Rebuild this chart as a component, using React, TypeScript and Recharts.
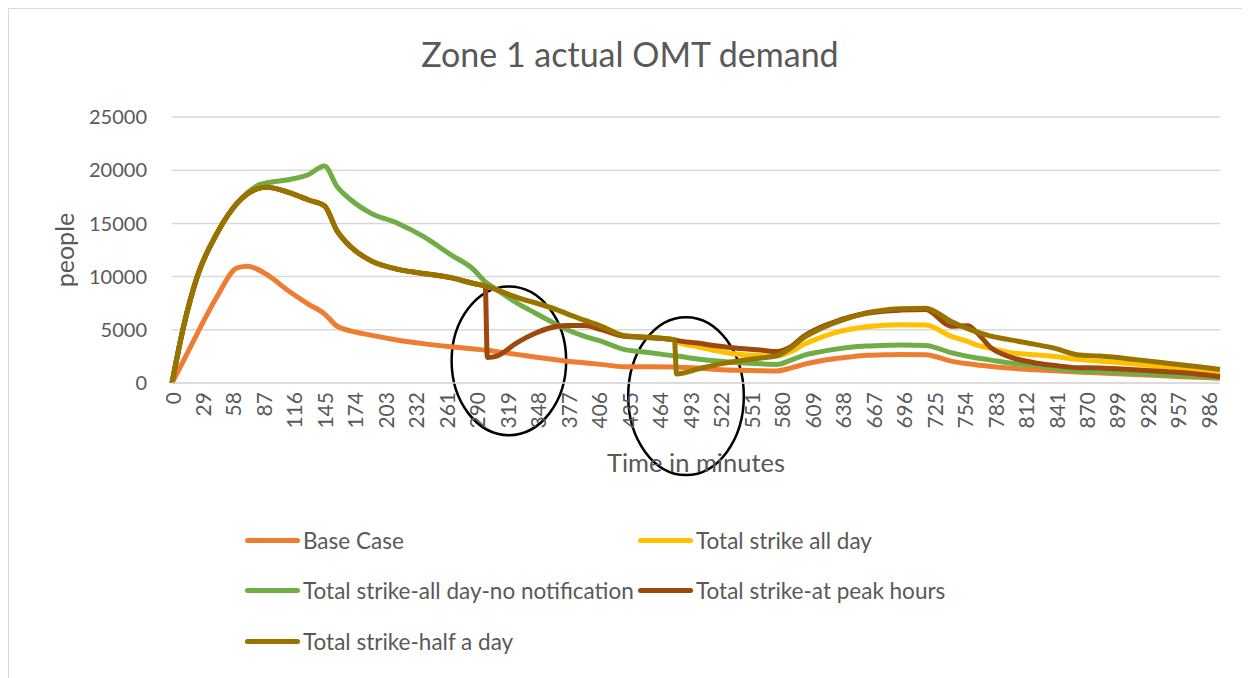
import React from 'react';
import {
  LineChart,
  Line,
  XAxis,
  YAxis,
  CartesianGrid,
  Legend,
  ReferenceArea,
} from 'recharts';

const minutes = [
  0, 11, 24, 43, 62, 72, 81, 90, 113, 130,
  145, 157, 170, 189, 214, 239, 265, 287, 298, 300,
  309, 328, 345, 360, 376, 392, 408, 430, 455, 478,
  480, 500, 519, 540, 560, 575, 590, 601, 615, 630,
  645, 661, 677, 693, 717, 741, 757, 766, 779, 795,
  820, 840, 861, 883, 915, 947, 975, 997,
];

const baseCase = [
  0, 2100, 4650, 8160, 10820, 10970, 10700, 10200, 8500, 7400,
  6500, 5340, 4900, 4500, 4050, 3700, 3410, 3200, 3090, 3070,
  2950, 2690, 2450, 2250, 2050, 1900, 1750, 1530, 1530, 1500,
  1490, 1400, 1280, 1200, 1150, 1130, 1450, 1750, 2050, 2280,
  2450, 2600, 2650, 2690, 2660, 2060, 1800, 1700, 1550, 1400,
  1250, 1150, 1030, 950, 810, 650, 540, 440,
];

const strikeAllDay = [
  0, 5300, 10000, 14100, 16900, 17800, 18250, 18400, 17850, 17200,
  16650, 14300, 12800, 11500, 10700, 10300, 9900, 9350, 9100, 9050,
  8750, 8050, 7550, 7100, 6500, 5900, 5350, 4450, 4300, 4050,
  3850, 3400, 3000, 2680, 2580, 2530, 3000, 3630, 4200, 4720,
  5050, 5280, 5420, 5480, 5440, 4400, 3900, 3550, 3250, 2900,
  2650, 2500, 2220, 2050, 1800, 1440, 1150, 910,
];

const strikeNoNotice = [
  0, 5300, 10000, 14100, 16900, 17900, 18550, 18800, 19150, 19600,
  20400, 18470, 17220, 15970, 15040, 13780, 12070, 10660, 9500, 9350,
  8780, 7530, 6600, 5810, 5000, 4400, 3940, 3160, 2850, 2550,
  2530, 2250, 2060, 1900, 1800, 1750, 2200, 2600, 2900, 3160,
  3350, 3470, 3530, 3570, 3530, 2850, 2500, 2350, 2150, 1900,
  1650, 1400, 1130, 1050, 910, 750, 620, 500,
];

const strikePeak = [
  0, 5300, 10000, 14100, 16900, 17800, 18250, 18400, 17850, 17200,
  16650, 14300, 12800, 11500, 10700, 10300, 9900, 9350, 9100, 2400,
  2530, 3780, 4650, 5190, 5410, 5400, 5030, 4400, 4250, 4050,
  4000, 3750, 3470, 3250, 3100, 2950, 3500, 4400, 5150, 5720,
  6200, 6550, 6750, 6850, 6910, 5340, 5380, 4720, 3320, 2530,
  1910, 1650, 1440, 1410, 1250, 1060, 850, 590,
];

const strikeHalfDay = [
  0, 5300, 10000, 14100, 16900, 17800, 18250, 18400, 17850, 17200,
  16650, 14300, 12800, 11500, 10700, 10300, 9900, 9350, 9100, 9050,
  8750, 8050, 7550, 7100, 6500, 5900, 5350, 4450, 4300, 4050,
  850, 1300, 1750, 2100, 2350, 2550, 3400, 4250, 5000, 5650,
  6150, 6600, 6850, 6970, 7030, 5800, 5100, 4800, 4400, 4100,
  3650, 3250, 2650, 2530, 2220, 1850, 1550, 1280,
];

const xTicks = [
  0, 29, 58, 87, 116, 145, 174, 203, 232, 261, 290, 319, 348, 377, 406, 435, 464, 493,
  522, 551, 580, 609, 638, 667, 696, 725, 754, 783, 812, 841, 870, 899, 928, 957, 986,
];
const yTicks = [0, 5000, 10000, 15000, 20000, 25000];

const SERIES = [
  { key: 'base', name: 'Base Case', color: '#ED7D31', values: baseCase },
  { key: 'allDay', name: 'Total strike all day', color: '#FFC000', values: strikeAllDay },
  { key: 'noNotice', name: 'Total strike-all day-no notification', color: '#70AD47', values: strikeNoNotice },
  { key: 'peak', name: 'Total strike-at peak hours', color: '#9E480E', values: strikePeak },
  { key: 'halfDay', name: 'Total strike-half a day', color: '#997300', values: strikeHalfDay },
];

// the two hand-drawn circles (minutes / people span)
const CIRCLES = [
  { x1: 266, x2: 375, y1: -4900, y2: 9070 },
  { x1: 434, x2: 544, y1: -8650, y2: 6190 },
];

const data = minutes.map((t, i) => {
  const row: Record<string, number> = { t };
  SERIES.forEach((s) => { row[s.key] = s.values[i]; });
  return row;
});

const TEXT = '#595959';
const FONT = 'Lato, "Open Sans", sans-serif';

function XTick({ x, y, payload }: any) {
  return (
    <text
      x={x}
      y={y}
      transform={`rotate(-90, ${x}, ${y})`}
      textAnchor="end"
      dominantBaseline="central"
      fill={TEXT}
      fontSize={21}
      fontFamily={FONT}
    >
      {payload.value}
    </text>
  );
}

function Ellipse(props: any) {
  const { x, y, width, height } = props;
  return (
    <ellipse
      cx={x + width / 2}
      cy={y + height / 2}
      rx={width / 2}
      ry={height / 2}
      fill="none"
      stroke="#000"
      strokeWidth={2.5}
    />
  );
}

function LegendBox() {
  return (
    <div
      style={{
        display: 'grid',
        gridTemplateColumns: '393px 393px',
        fontFamily: FONT,
        fontSize: 22.5,
        color: TEXT,
      }}
    >
      {SERIES.map((s) => (
        <div key={s.key} style={{ display: 'flex', alignItems: 'center', height: 50.5, whiteSpace: 'nowrap' }}>
          <span style={{ display: 'inline-block', width: 55, height: 5, borderRadius: 3, background: s.color, marginRight: 3 }} />
          <span>{s.name}</span>
        </div>
      ))}
    </div>
  );
}

export default function App() {
  return (
    <div
      style={{
        position: 'relative',
        width: 1242,
        height: 670,
        borderTop: '1px solid #d9d9d9',
        borderLeft: '1px solid #d9d9d9',
        background: '#fff',
      }}
    >
      <div
        style={{
          position: 'absolute',
          top: 24,
          left: 0,
          width: 1242,
          textAlign: 'center',
          fontFamily: FONT,
          fontSize: 34,
          color: TEXT,
        }}
      >
        Zone 1 actual OMT demand
      </div>
      <LineChart
        width={1241}
        height={669}
        data={data}
        margin={{ top: 108, right: 30, bottom: 195, left: 0 }}
      >
        <CartesianGrid vertical={false} stroke="#d9d9d9" strokeWidth={1.5} />
        <XAxis
          dataKey="t"
          type="number"
          domain={[0, 997]}
          ticks={xTicks}
          interval={0}
          tick={<XTick />}
          tickLine={false}
          tickSize={0}
          tickMargin={9}
          axisLine={{ stroke: '#d9d9d9', strokeWidth: 1.5 }}
          height={100}
          label={{
            value: 'Time in minutes',
            position: 'insideBottom',
            offset: 11,
            fill: TEXT,
            fontSize: 25.5,
            fontFamily: FONT,
          }}
        />
        <YAxis
          domain={[0, 25000]}
          ticks={yTicks}
          width={163}
          axisLine={false}
          tickLine={false}
          tickSize={0}
          tickMargin={25}
          tick={{ fill: TEXT, fontSize: 20, fontFamily: FONT }}
          label={{
            value: 'people',
            angle: -90,
            position: 'insideLeft',
            offset: 56,
            fill: TEXT,
            fontSize: 25,
            fontFamily: FONT,
            style: { textAnchor: 'middle' },
          }}
        />
        <Legend
          layout="horizontal"
          verticalAlign="middle"
          align="center"
          wrapperStyle={{ left: 236, top: 506, width: 800 }}
          content={<LegendBox />}
        />
        {SERIES.map((s) => (
          <Line
            key={s.key}
            type="monotone"
            dataKey={s.key}
            name={s.name}
            stroke={s.color}
            strokeWidth={5}
            strokeLinejoin="round"
            dot={false}
            activeDot={false}
            isAnimationActive={false}
          />
        ))}
        {CIRCLES.map((c, i) => (
          <ReferenceArea
            key={i}
            x1={c.x1}
            x2={c.x2}
            y1={c.y1}
            y2={c.y2}
            ifOverflow="visible"
            shape={<Ellipse />}
          />
        ))}
      </LineChart>
    </div>
  );
}
